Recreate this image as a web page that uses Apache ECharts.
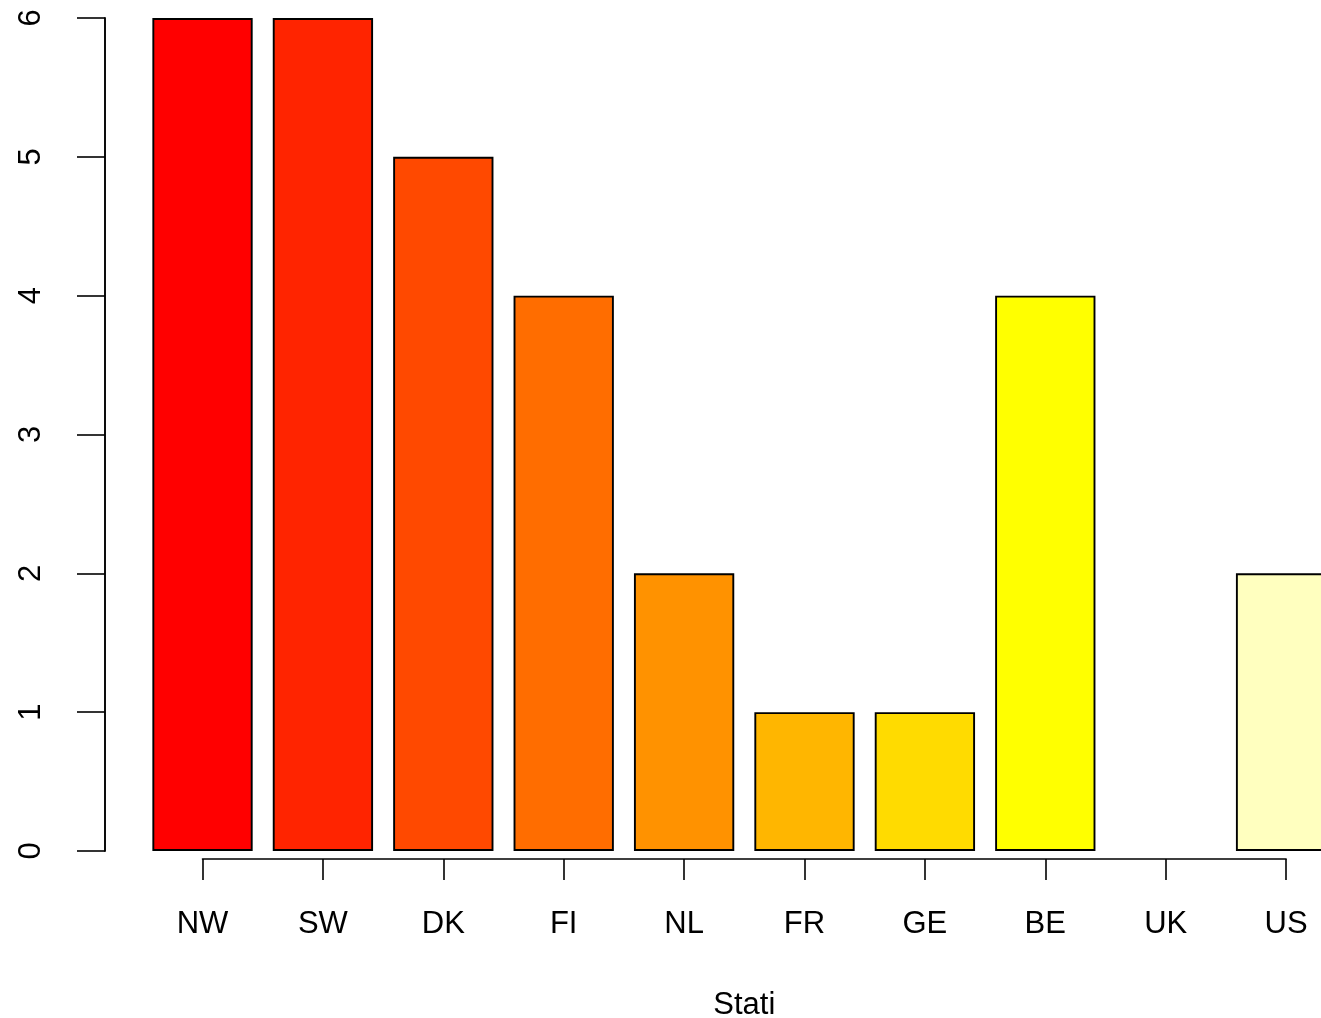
<!DOCTYPE html>
<html>
<head>
<meta charset="utf-8">
<script src="https://cdn.jsdelivr.net/npm/echarts@6/dist/echarts.min.js"></script>
<style>
html,body{margin:0;padding:0;background:#fff;}
#chart{width:1321px;height:1018px;}
</style>
</head>
<body>
<div id="chart"></div>
<script>
const categories = ["NW", "SW", "DK", "FI", "NL", "FR", "GE", "BE", "UK", "US"];
const counts = [6, 6, 5, 4, 2, 1, 1, 4, 0, 2];
const yTicks = [0, 1, 2, 3, 4, 5, 6];
const barColors = ["#FF0000", "#FF2400", "#FF4900", "#FF6D00", "#FF9200", "#FFB600", "#FFDB00", "#FFFF00", "#FFFF40", "#FFFFBF"];
const xTitle = "Stati";

const FONT = "Liberation Sans, Arial, Helvetica, sans-serif";
const FS = 31;
const chart = echarts.init(document.getElementById('chart'), null, {renderer: 'canvas'});

chart.setOption({
  backgroundColor: '#ffffff',
  animation: false,
  grid: [
    {left: 105, top: 18, right: 0, height: 833, containLabel: false, outerBoundsMode: 'none'},
    {left: 202.5, top: 701, width: 1083.6, height: 158, containLabel: false, outerBoundsMode: 'none'}
  ],
  xAxis: [
    {
      gridIndex: 0, type: 'value', min: -0.81, max: 9.29,
      axisLine: {show: false, onZero: false}, axisTick: {show: false}, axisLabel: {show: false}, splitLine: {show: false}
    },
    {
      gridIndex: 1, type: 'category', data: categories, boundaryGap: false, position: 'bottom',
      axisLine: {show: true, onZero: false, lineStyle: {color: '#000', width: 1.6}},
      axisTick: {show: true, length: 21, inside: false, lineStyle: {color: '#000', width: 1.6}},
      axisLabel: {show: true, interval: 0, margin: 50, color: '#000', fontSize: FS, fontFamily: FONT},
      splitLine: {show: false},
      name: xTitle, nameLocation: 'middle', nameGap: 130.5,
      nameTextStyle: {color: '#000', fontSize: FS, fontFamily: FONT}
    }
  ],
  yAxis: [
    {
      gridIndex: 0, type: 'value', min: yTicks[0], max: yTicks[yTicks.length - 1], interval: 1,
      position: 'left',
      axisLine: {show: true, onZero: false, lineStyle: {color: '#000', width: 1.9}},
      axisTick: {show: true, length: 28, lineStyle: {color: '#000', width: 1.6}},
      axisLabel: {show: true, rotate: 90, margin: 58, color: '#000', fontSize: FS, fontFamily: FONT},
      splitLine: {show: false}
    },
    {gridIndex: 1, type: 'value', min: 0, max: 1, show: false}
  ],
  series: [{
    type: 'bar',
    xAxisIndex: 0, yAxisIndex: 0,
    barWidth: 100.3,
    clip: true,
    data: counts.map((v, i) => ({
      value: [i, v],
      itemStyle: {color: barColors[i], borderWidth: v === 0 ? 0 : 1.9}
    })),
    itemStyle: {borderColor: '#000', borderWidth: 1.9},
    emphasis: {disabled: true}
  }]
});
</script>
</body>
</html>
